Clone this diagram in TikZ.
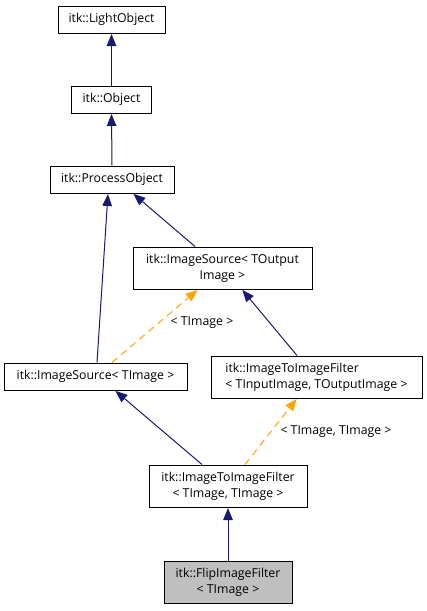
\documentclass[tikz,border=0pt]{standalone}
\usepackage{fontspec}
\setmainfont{Open Sans}
\usetikzlibrary{arrows.meta}
\definecolor{edgeblue}{RGB}{25,25,112}
\definecolor{tmplorange}{RGB}{255,165,0}
\definecolor{boxgray}{RGB}{191,191,191}
\tikzset{
  cls/.style={draw=black, line width=1pt, rectangle, inner sep=0pt, fill=white,
    font=\fontsize{12.3}{16}\selectfont, align=center},
  inh/.style={draw=edgeblue, line width=1pt, -{Triangle[length=12pt,width=9.5pt]}, shorten >=0.5pt},
  tmpl/.style={draw=tmplorange, line width=1pt, dash pattern=on 7pt off 5pt, -{Triangle[length=12pt,width=9.5pt]}, shorten >=0.5pt},
  lbl/.style={font=\fontsize{12.3}{16}\selectfont, inner sep=0pt}
}
\begin{document}
\begin{tikzpicture}[x=1pt,y=-1pt]
\useasboundingbox (0,0) rectangle (427,611);
\node[cls, minimum width=107pt, minimum height=27pt] (light) at (111.5,19.5) {itk::LightObject};
\node[cls, minimum width=80pt, minimum height=27pt] (object) at (111.5,99.5) {itk::Object};
\node[cls, minimum width=124pt, minimum height=27pt] (process) at (112,179.5) {itk::ProcessObject};
\node[cls, minimum width=179pt, minimum height=42pt] (isout) at (222.5,268) {itk::ImageSource< TOutput\\Image >};
\node[cls, minimum width=183pt, minimum height=27pt] (isimg) at (95.5,376.5) {itk::ImageSource< TImage >};
\node[cls, minimum width=211pt, minimum height=42pt, align=left] (iio) at (316.5,377) {itk::ImageToImageFilter\\< TInputImage, TOutputImage >};
\node[cls, minimum width=158pt, minimum height=42pt] (itt) at (228,486) {itk::ImageToImageFilter\\< TImage, TImage >};
\node[cls, fill=boxgray, minimum width=128pt, minimum height=42pt] (flip) at (228,582) {itk::FlipImageFilter\\< TImage >};

\draw[inh] (object.north) -- (light.south);
\draw[inh] (process.north) -- (object.south);
\draw[inh] ([xshift=1.5pt]isimg.north) -- ([xshift=-4pt]process.south);
\draw[inh] ([xshift=-27.5pt]isout.north) -- ([xshift=21pt]process.south);
\draw[inh] ([xshift=-19.5pt]iio.north) -- ([xshift=19.5pt]isout.south);
\draw[tmpl] ([xshift=16.5pt]isimg.north) -- ([xshift=-24.5pt]isout.south);
\node[lbl] (l1) at (202,323) {< TImage >};
\draw[inh] ([xshift=-26pt]itt.north) -- ([xshift=19.5pt]isimg.south);
\draw[tmpl] ([xshift=17pt]itt.north) -- ([xshift=-19.5pt]iio.south);
\node[lbl] (l2) at (336,432) {< TImage, TImage >};
\draw[inh] (flip.north) -- (itt.south);
\end{tikzpicture}
\end{document}
